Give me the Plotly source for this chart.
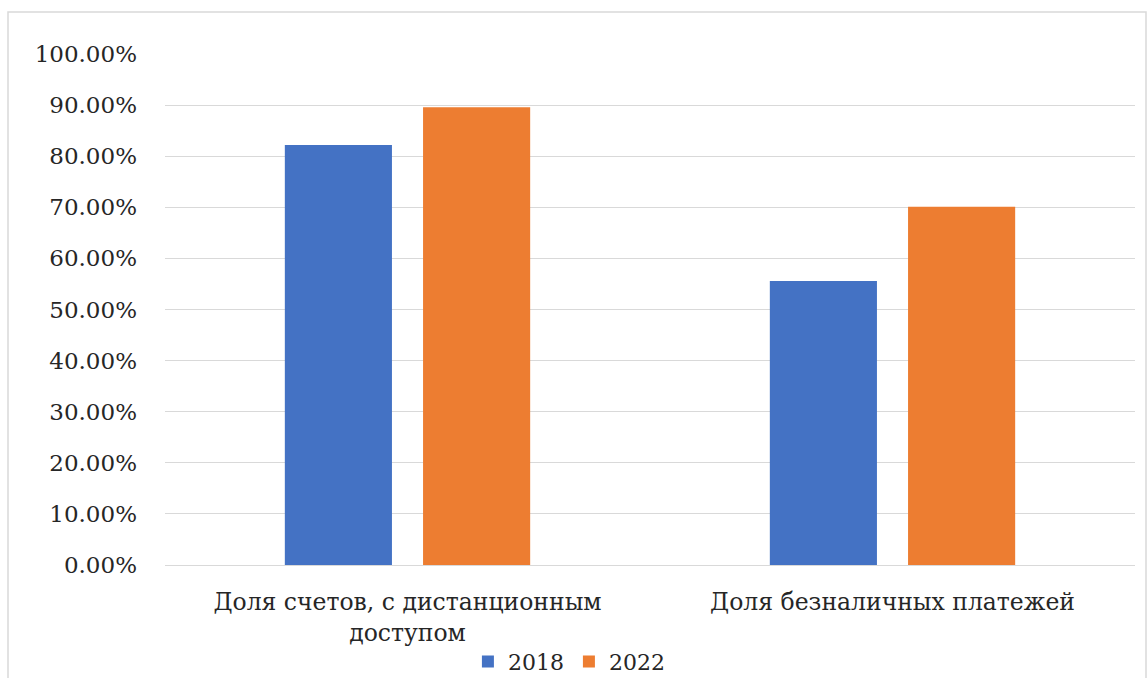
import plotly.graph_objects as go

categories = ["Доля счетов, с дистанционным<br>доступом", "Доля безналичных платежей"]
series_names = ["2018", "2022"]
values_2018 = [0.822, 0.556]
values_2022 = [0.896, 0.701]
colors = ["#4472C4", "#ED7D31"]
y_ticks = [i / 10 for i in range(11)]

FONT = "DejaVu Serif"
TXT = "#262626"

fig = go.Figure()
for name, vals, col in zip(series_names, [values_2018, values_2022], colors):
    fig.add_trace(go.Bar(name=name, x=categories, y=vals, marker_color=col,
                         marker_line_width=0))

fig.update_layout(
    width=1147, height=678,
    margin=dict(l=165, r=12, t=54, b=113, autoexpand=False),
    paper_bgcolor="white", plot_bgcolor="white",
    barmode="group", bargap=0.43, bargroupgap=0.225,
    font=dict(family=FONT, size=22, color=TXT),
    showlegend=True,
    legend=dict(orientation="h", xref="container", yref="container",
                x=0.496, xanchor="center", y=0.024, yanchor="middle",
                font=dict(family=FONT, size=22, color=TXT), itemwidth=30,
                traceorder="normal", bgcolor="rgba(0,0,0,0)"),
    xaxis=dict(showgrid=False, showline=True, linecolor="#d9d9d9", linewidth=1,
               ticks="", ticklabelstandoff=16, automargin=False,
               tickfont=dict(family=FONT, size=23.5, color=TXT)),
    yaxis=dict(range=[0, 1.0], tickvals=y_ticks, tickformat=".2%", showgrid=True,
               gridcolor="#d9d9d9", gridwidth=1, zeroline=False, showline=False,
               ticks="", ticklabelstandoff=27, automargin=False,
               tickfont=dict(family=FONT, size=23, color=TXT)),
    shapes=[dict(type="rect", xref="paper", yref="paper",
                 x0=(8 - 165) / 970, x1=(1146 - 165) / 970,
                 y0=(565 - 690) / 511, y1=(565 - 12) / 511,
                 line=dict(color="#d9d9d9", width=1.5), fillcolor="rgba(0,0,0,0)", layer="below")],
)

fig.write_html("out.html")
